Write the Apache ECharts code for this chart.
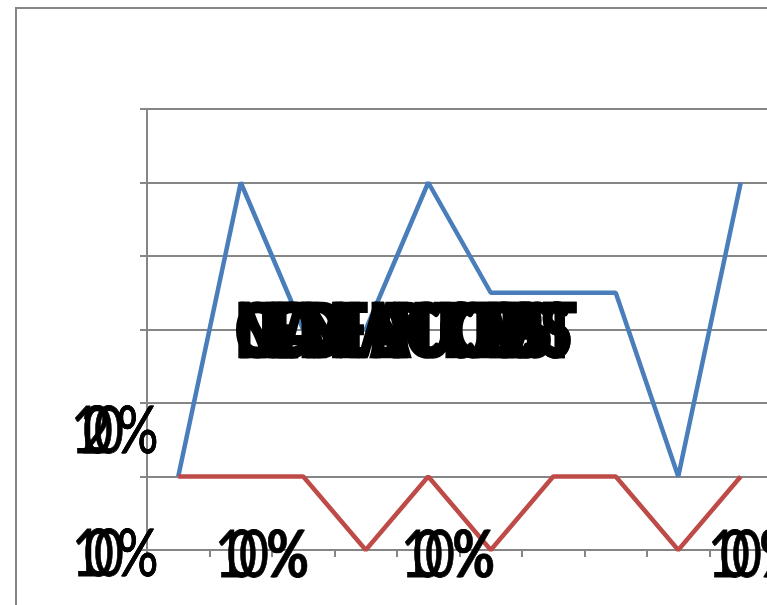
<!DOCTYPE html>
<html>
<head>
<meta charset="utf-8">
<script src="https://cdn.jsdelivr.net/npm/echarts@6/dist/echarts.min.js"></script>
<style>
  html, body { margin: 0; padding: 0; background: #ffffff; }
  #chart { width: 767px; height: 605px; }
</style>
</head>
<body>
<div id="chart"></div>
<script>
// Category slots along the horizontal axis
const categories = ['1', '2', '3', '4', '5', '6', '7', '8', '9', '10'];

// Series values (one unit per gridline)
const blueValues = [1, 5, 3, 3, 5, 3.5, 3.5, 3.5, 1, 5];
const redValues  = [1, 1, 1, 0, 1, 0, 1, 1, 0, 1];

// Value-axis range
const yMin = 0;
const yMax = 6;
const yStep = 1;

// Overprinted tick label stacks
const yLabelUpper = ['10%', '20%'];
const yLabelLower = ['10%', '0%'];
const xLabelStack = ['10%', '0%'];

// Overprinted heading layers
const titleLayers = ['NOVEL CAPS', 'MEDIAN COST', 'OLD ACCESS', 'LEAN INPUT TEST'];

const GRAY = '#868686';
const BLUE = '#4A7EBB';
const RED = '#BE4B48';

// Builds a text element whose characters sit in fixed-width boxes, so glyphs crowd together.
function crowdedText(str, x, y, advances, opts) {
  const sx = opts.scaleX;
  const rich = {};
  let text = '';
  for (let i = 0; i < str.length; i++) {
    const key = 'c' + i;
    const st = {
      fontSize: opts.fontSize,
      fontFamily: opts.fontFamily,
      fontWeight: opts.fontWeight,
      fill: '#000000'
    };
    if (opts.strokeWidth) {
      st.stroke = '#000000';
      st.lineWidth = opts.strokeWidth;
    }
    if (i < str.length - 1) st.width = advances[i] / sx;
    rich[key] = st;
    text += '{' + key + '|' + str[i] + '}';
  }
  const style = {
    text: text,
    rich: rich,
    fontSize: opts.fontSize,
    fontFamily: opts.fontFamily,
    fontWeight: opts.fontWeight,
    fill: '#000000',
    align: 'left',
    verticalAlign: 'middle'
  };
  if (opts.strokeWidth) {
    style.stroke = '#000000';
    style.lineWidth = opts.strokeWidth;
  }
  return { type: 'text', x: x, y: y, scaleX: sx, z: 100, style: style };
}

const labelFont = { fontSize: 66, fontFamily: 'Lato', fontWeight: 'normal', scaleX: 0.78, strokeWidth: 0.8 };
const titleFont = { fontSize: 75, fontFamily: 'Lato', fontWeight: 900, scaleX: 0.74, strokeWidth: 2.5 };

// A stacked tick label: first string at x0, second string shifted right
function labelStack(stack, x0, y, shift, advA, advB) {
  return [
    crowdedText(stack[0], x0, y, advA, labelFont),
    crowdedText(stack[1], x0 + shift, y, advB, labelFont)
  ];
}

const graphics = [];
// Chart frame
graphics.push({
  type: 'rect',
  z: 0,
  shape: { x: 16, y: 8, width: 900, height: 800 },
  style: { fill: 'none', stroke: GRAY, lineWidth: 2 }
});
// Value-axis labels
graphics.push(...labelStack(yLabelUpper, 71, 432, 10, [12, 34], [13, 23]));
graphics.push(...labelStack(yLabelLower, 72, 555, 22, [12, 33], [23]));
// Category-axis labels
[215, 401, 708].forEach(function (x0) {
  graphics.push(...labelStack(xLabelStack, x0, 556, 24, [12, 41], [27]));
});
// Heading layers spread over the same band
titleLayers.forEach(function (word, k) {
  const span = 306;
  const step = span / (word.length - 1);
  const adv = [];
  for (let i = 0; i < word.length - 1; i++) adv.push(step);
  graphics.push(crowdedText(word, 235 + (k % 2) * 2, 333, adv, titleFont));
});

const chart = echarts.init(document.getElementById('chart'), null, { renderer: 'canvas' });
chart.setOption({
  backgroundColor: '#ffffff',
  animation: false,
  grid: { left: 147, top: 109, width: 625, height: 441, containLabel: false, outerBoundsMode: 'none' },
  xAxis: {
    type: 'category',
    data: categories,
    boundaryGap: true,
    axisLine: { show: true, lineStyle: { color: GRAY, width: 2 } },
    axisTick: { show: true, length: 7, lineStyle: { color: GRAY, width: 2 } },
    axisLabel: { show: false },
    splitLine: { show: false }
  },
  yAxis: {
    type: 'value',
    min: yMin,
    max: yMax,
    interval: yStep,
    axisLine: { show: true, lineStyle: { color: GRAY, width: 2 } },
    axisTick: { show: true, length: 7, lineStyle: { color: GRAY, width: 2 } },
    axisLabel: { show: false },
    splitLine: { show: true, lineStyle: { color: GRAY, width: 2 } }
  },
  series: [
    {
      type: 'line',
      data: blueValues,
      symbol: 'none',
      lineStyle: { color: BLUE, width: 4.5 },
      z: 3
    },
    {
      type: 'line',
      data: redValues,
      symbol: 'none',
      lineStyle: { color: RED, width: 4.5 },
      z: 4
    }
  ],
  graphic: graphics
});
</script>
</body>
</html>
